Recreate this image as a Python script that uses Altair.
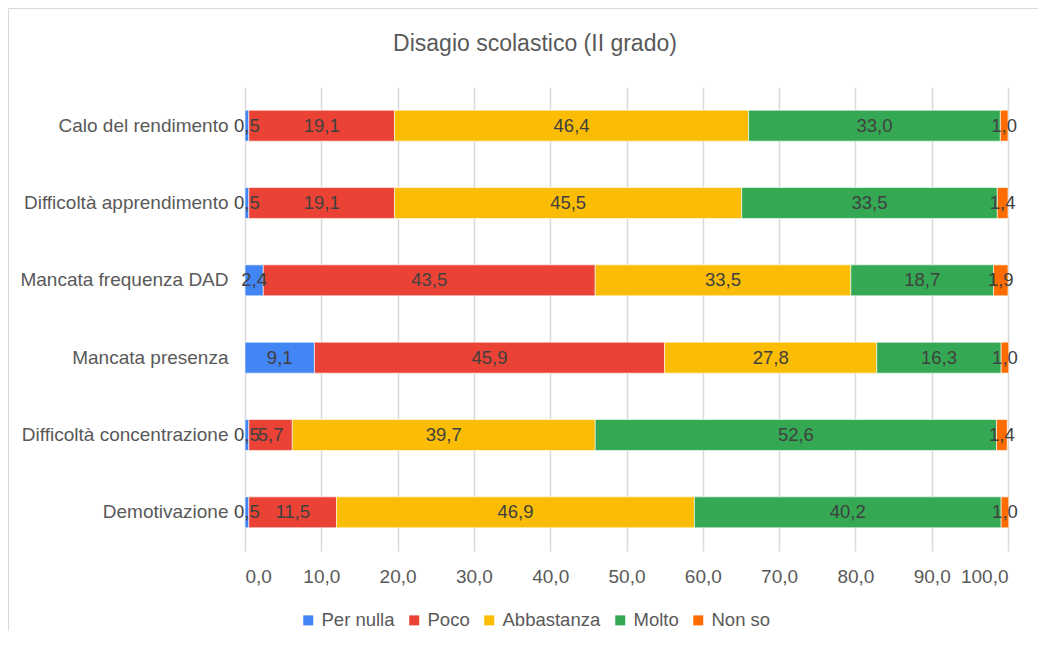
import altair as alt
import pandas as pd

title_text = "Disagio scolastico (II grado)"
categories = [
    "Calo del rendimento",
    "Difficoltà apprendimento",
    "Mancata frequenza DAD",
    "Mancata presenza",
    "Difficoltà concentrazione",
    "Demotivazione",
]
series = ["Per nulla", "Poco", "Abbastanza", "Molto", "Non so"]
per_nulla = [0.5, 0.5, 2.4, 9.1, 0.5, 0.5]
poco = [19.1, 19.1, 43.5, 45.9, 5.7, 11.5]
abbastanza = [46.4, 45.5, 33.5, 27.8, 39.7, 46.9]
molto = [33.0, 33.5, 18.7, 16.3, 52.6, 40.2]
non_so = [1.0, 1.4, 1.9, 1.0, 1.4, 1.0]
colors = ["#4285F4", "#EA4335", "#FBBC04", "#34A853", "#FF6D01"]
x_ticks = [0, 10, 20, 30, 40, 50, 60, 70, 80, 90, 100]

FONT = "Liberation Sans"
GRAY = "#595959"

values_by_series = [per_nulla, poco, abbastanza, molto, non_so]
rows = []
for si, (s, vals) in enumerate(zip(series, values_by_series)):
    for c, v in zip(categories, vals):
        rows.append({"category": c, "series": s, "order": si, "value": v,
                     "label": f"{v:.1f}".replace(".", ",")})
df = pd.DataFrame(rows)

base = alt.Chart(df).transform_stack(
    stack="value", groupby=["category"], as_=["x0", "x1"],
    sort=[alt.SortField("order", order="ascending")]
).transform_calculate(mid="(datum.x0 + datum.x1) / 2")

y_enc = alt.Y("category:N", sort=categories, title=None,
              scale=alt.Scale(paddingInner=0.6, paddingOuter=0.3),
              axis=alt.Axis(domain=False, ticks=False, labelPadding=17,
                            labelLimit=400,
                            labelFontSize=19, labelColor=GRAY, labelFont=FONT))

x_scale = alt.Scale(domain=[0, 100], nice=False)

bars = base.mark_bar(stroke="white", strokeWidth=0.6).encode(
    x=alt.X("x0:Q", scale=x_scale, title=None,
            axis=alt.Axis(values=x_ticks, domain=False, ticks=False,
                          labelExpr="replace(format(datum.value, '.1f'), '.', ',')",
                          grid=True, gridColor="#d9d9d9", gridWidth=1.5,
                          labelFontSize=19, labelColor=GRAY, labelFont=FONT,
                          labelPadding=16)),
    x2="x1:Q",
    y=y_enc,
    color=alt.Color("series:N", sort=series, title=None,
                    scale=alt.Scale(domain=series, range=colors),
                    legend=alt.Legend(orient="none", direction="horizontal",
                                      legendX=54, legendY=524,
                                      symbolType="square", symbolSize=100,
                                      symbolStrokeWidth=0,
                                      labelFontSize=18.5, labelColor=GRAY,
                                      labelFont=FONT, columnPadding=10,
                                      labelOffset=4, padding=0)),
)

labels = base.mark_text(fontSize=18.5, color="#404040", font=FONT,
                        align="center", baseline="middle").encode(
    x=alt.X("mid:Q", scale=x_scale),
    y=alt.Y("category:N", sort=categories),
    text="label:N",
)

title = alt.Chart(pd.DataFrame({"t": [title_text]})).mark_text(
    fontSize=23, color=GRAY, font=FONT, align="center", baseline="middle"
).encode(x=alt.value(290), y=alt.value(-43), text="t:N")

border_df = pd.DataFrame({"a": [0]})
top_border = alt.Chart(border_df).mark_rule(color="#d9d9d9", strokeWidth=1).encode(
    x=alt.value(-236.5), x2=alt.value(800), y=alt.value(-78.5))
left_border = alt.Chart(border_df).mark_rule(color="#d9d9d9", strokeWidth=1).encode(
    x=alt.value(-236.5), y=alt.value(-78.5), y2=alt.value(560))

chart = alt.layer(top_border, left_border, title, bars, labels).properties(
    width=763, height=464,
    autosize=alt.AutoSizeParams(type="none"),
    padding={"left": 237, "top": 79, "right": 30, "bottom": 80},
).configure_view(stroke=None)

chart.save("out.html", embed_options={"renderer": "svg", "actions": False})
